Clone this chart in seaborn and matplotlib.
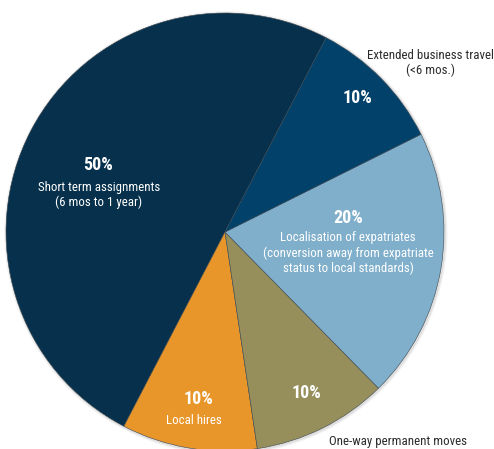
import matplotlib
matplotlib.use("Agg")
import matplotlib.pyplot as plt
import seaborn as sns
from matplotlib.patches import Circle

# Share of assignment types (percent), counter-clockwise from the top-right cut
categories = [
    "Short term assignments\n(6 mos to 1 year)",
    "Local hires",
    "One-way permanent moves",
    "Localisation of expatriates\n(conversion away from expatriate\nstatus to local standards)",
    "Extended business travel\n(<6 mos.)",
]
values = [50, 10, 10, 20, 10]
colors = ["#06304b", "#e8962a", "#978f5b", "#80afcb", "#02416a"]

sns.set_theme(style="white")
plt.rcParams["font.family"] = ["Liberation Sans Narrow", "Roboto Condensed",
                               "Liberation Sans", "DejaVu Sans"]

W, H = 494, 449
fig = plt.figure(figsize=(W / 100, H / 100), dpi=100)
ax = fig.add_axes([0, 0, 1, 1])

# pie geometry in pixel space
CX, CY, R = 225, 232, 219


def px(x, y):
    return (x - CX) / R, (CY - y) / R


# soft rim shadow
for k, a in [(1.012, 0.05), (1.006, 0.08)]:
    ax.add_patch(Circle((0.004, -0.004), k, color="#000000", alpha=a, lw=0, zorder=0))

wedges, _ = ax.pie(
    values,
    colors=colors,
    startangle=62.5,
    counterclock=True,
    radius=1,
    wedgeprops=dict(edgecolor="#3c4750", linewidth=0.4),
)
ax.set_xlim(-CX / R, (W - CX) / R)
ax.set_ylim(-(H - CY) / R, CY / R)
ax.set_aspect("auto")
ax.axis("off")

white = "#ffffff"
dark = "#2b2b2b"
pct_fs = 13
lab_fs = 9.3

# labels inside slices
inside = [
    (0, (98, 165), (99, 195)),
    (1, (198, 399), (194, 420)),
    (3, (348, 218), (348, 253)),
]
for i, pp, lp in inside:
    ax.text(*px(*pp), f"{values[i]}%", color=white, fontsize=pct_fs,
            fontweight="bold", ha="center", va="center")
    ax.text(*px(*lp), categories[i], color=white, fontsize=lab_fs,
            ha="center", va="center", linespacing=1.2)

# percentage only inside, name outside
ax.text(*px(357, 98), f"{values[4]}%", color=white, fontsize=pct_fs,
        fontweight="bold", ha="center", va="center")
ax.text(*px(430, 63), categories[4], color=dark, fontsize=lab_fs,
        ha="center", va="center", linespacing=1.2)

ax.text(*px(306, 393), f"{values[2]}%", color=white, fontsize=pct_fs,
        fontweight="bold", ha="center", va="center")
ax.text(*px(398, 441), categories[2], color=dark, fontsize=lab_fs,
        ha="center", va="center")

fig.savefig("out.png", dpi=100, facecolor="white")
